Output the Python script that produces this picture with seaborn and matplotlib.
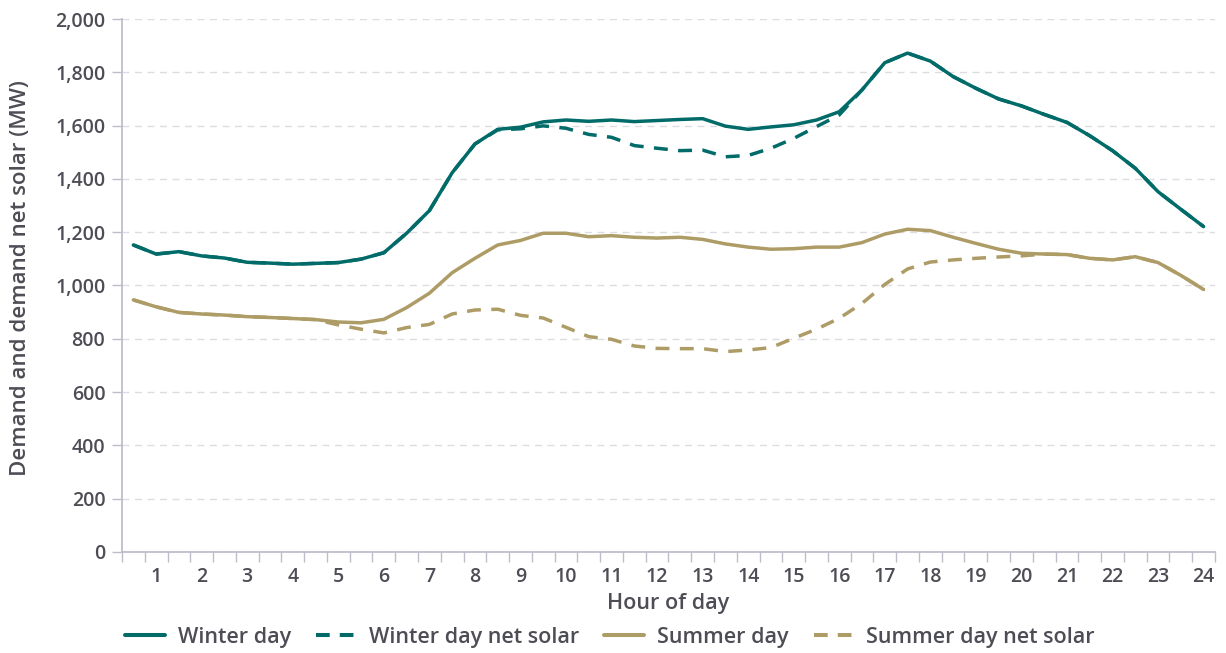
import numpy as np
import pandas as pd
import matplotlib
matplotlib.use("Agg")
import matplotlib.pyplot as plt
import seaborn as sns
from matplotlib.ticker import FuncFormatter
from matplotlib.lines import Line2D

# Half-hourly periods: 0.5 .. 24.0 hours
hours = [0.5 * (i + 1) for i in range(48)]

winter_day = [1152, 1118, 1127, 1111, 1103, 1087, 1084, 1080, 1083, 1086, 1099, 1123,
              1196, 1281, 1423, 1531, 1586, 1594, 1614, 1621, 1616, 1621, 1615, 1619,
              1623, 1626, 1598, 1586, 1595, 1603, 1621, 1652, 1734, 1836, 1872, 1842,
              1784, 1740, 1700, 1674, 1642, 1612, 1562, 1506, 1440, 1352, 1286, 1221]

winter_net_solar = [1152, 1118, 1127, 1111, 1103, 1087, 1084, 1080, 1083, 1086, 1099, 1123,
                    1196, 1281, 1423, 1531, 1584, 1588, 1599, 1590, 1567, 1556, 1525, 1515,
                    1506, 1508, 1483, 1488, 1515, 1552, 1596, 1640, 1734, 1836, 1872, 1842,
                    1784, 1740, 1700, 1674, 1642, 1612, 1562, 1506, 1440, 1352, 1286, 1221]

summer_day = [946, 920, 899, 893, 889, 883, 880, 876, 872, 863, 860, 873,
              917, 971, 1048, 1102, 1152, 1169, 1196, 1196, 1183, 1187, 1181, 1178,
              1181, 1173, 1156, 1144, 1136, 1138, 1144, 1144, 1161, 1193, 1211, 1206,
              1181, 1158, 1136, 1121, 1118, 1116, 1102, 1096, 1108, 1086, 1038, 985]

summer_net_solar = [946, 920, 899, 893, 889, 883, 880, 876, 872, 852, 836, 822,
                    842, 854, 893, 908, 911, 888, 878, 843, 808, 798, 773, 764,
                    763, 763, 752, 758, 767, 802, 836, 877, 933, 1004, 1062, 1088,
                    1096, 1102, 1107, 1111, 1118, 1116, 1102, 1096, 1108, 1086, 1038, 985]

series_names = ["Winter day", "Winter day net solar", "Summer day", "Summer day net solar"]
x_ticks = list(range(1, 25))
y_ticks = list(range(0, 2001, 200))

TEAL = "#006B68"
GOLD = "#AE9C66"
colors = {"Winter day": TEAL, "Winter day net solar": TEAL,
          "Summer day": GOLD, "Summer day net solar": GOLD}

df = pd.DataFrame({
    "hour": hours * 4,
    "MW": winter_day + winter_net_solar + summer_day + summer_net_solar,
    "series": sum([[n] * 48 for n in series_names], []),
})

sns.set_theme(style="white")
plt.rcParams["font.family"] = ["Open Sans", "DejaVu Sans"]

TXT = "#4D4D55"
fig = plt.figure(figsize=(12.26, 6.53), dpi=100)
ax = fig.add_axes([0.0995, 0.1547, 0.8915, 0.8162])

order = ["Summer day net solar", "Summer day", "Winter day net solar", "Winter day"]
for name in order:
    sub = df[df["series"] == name]
    sns.lineplot(data=sub, x="hour", y="MW", ax=ax, color=colors[name],
                 linewidth=2.5, legend=False,
                 linestyle="--" if "net" in name else "-")
for line in ax.get_lines():
    if line.get_linestyle() == "--":
        line.set_dashes((4, 3))

ax.set_xlim(0.25, 24.25)
ax.set_ylim(0, 2000)
ax.set_xticks(x_ticks)
ax.set_xticks([0.25 + 0.5 * k for k in range(49)], minor=True)
ax.set_yticks(y_ticks)
ax.yaxis.set_major_formatter(FuncFormatter(lambda v, p: f"{int(v):,}"))

ax.tick_params(axis="x", which="major", length=0, pad=11, labelsize=14, labelcolor=TXT)
ax.tick_params(axis="x", which="minor", length=7, width=1, color="#BEBECB", bottom=True)
ax.tick_params(axis="y", which="major", length=7, width=1, color="#BEBECB", left=True,
               labelsize=14, labelcolor=TXT, pad=5)
for lab in ax.get_xticklabels() + ax.get_yticklabels():
    lab.set_fontweight("semibold")

ax.grid(axis="y", color="#DCDCE3", linestyle=(0, (5, 4)), linewidth=1)
ax.grid(axis="x", visible=False)
for s in ["top", "right"]:
    ax.spines[s].set_visible(False)
for s in ["left", "bottom"]:
    ax.spines[s].set_color("#BEBECB")
    ax.spines[s].set_linewidth(1.3)

ax.set_xlabel("Hour of day", fontsize=15.5, color=TXT, fontweight="semibold", labelpad=4)
ax.set_ylabel("Demand and demand net solar (MW)", fontsize=16, color=TXT,
              fontweight="semibold")
ax.yaxis.set_label_coords(-0.083, 0.514)

handles = [Line2D([], [], color=colors[n], linewidth=2.9,
                  linestyle="-" if "net" not in n else (0, (3.4, 2.5))) for n in series_names]
leg = fig.legend(handles, series_names, loc="center", bbox_to_anchor=(0.4976, 0.024),
                 ncol=4, frameon=False, fontsize=15.5, handlelength=1.85,
                 columnspacing=1.17, handletextpad=0.6)
for t in leg.get_texts():
    t.set_color(TXT)
    t.set_fontweight("semibold")

fig.savefig("out.png", dpi=100, facecolor="white")
